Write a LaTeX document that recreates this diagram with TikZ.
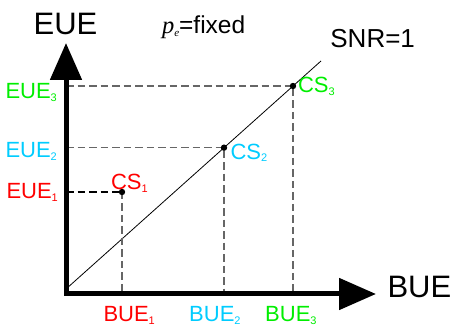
\documentclass[tikz,border=0pt]{standalone}
\usepackage{fontspec}
\setmainfont{Liberation Sans}
\newfontfamily\serifit{Liberation Serif}
\usetikzlibrary{positioning,arrows.meta}
\definecolor{CSred}{HTML}{FF0000}
\definecolor{CScyan}{HTML}{00CCFF}
\definecolor{CSgreen}{HTML}{00EE00}
\newcommand{\lo}[1]{\raisebox{-2.5pt}{\fontsize{11}{11}\selectfont #1}}

\begin{document}
\begin{tikzpicture}[
  x=1pt,y=1pt,
  every node/.style={inner sep=0pt,outer sep=0pt},
  axislabel/.style={font=\fontsize{31}{31}\selectfont},
  cslabel/.style={font=\fontsize{22}{22}\selectfont,anchor=base west},
  guide/.style={dash pattern=on 7.5pt off 4pt,line width=1.3pt,black!60},
  axisline/.style={line width=5pt,{Triangle[length=37pt,width=31pt]}-{Triangle[length=37pt,width=31pt]}}
]
\useasboundingbox (0,0) rectangle (456,326);

% axes corner and tips
\coordinate (O) at (66,32);
\coordinate (ytip) at (66,283);
\coordinate (xtip) at (376,32);

% SNR=1 line
\coordinate (d0) at (66,37);
\coordinate (d1) at (321,265);
\draw[line width=0.8pt] (d0) -- (d1);

% operating points
\coordinate (cs1) at (122,134);
\coordinate (cs2) at (224,178.3);
\coordinate (cs3) at (293,240);

% projections on the axes
\draw[guide,black,line width=1.1pt] (O |- cs1) -- (cs1);
\draw[guide] (cs1) -- (O -| cs1);
\draw[guide] (O |- cs2) -- (cs2) -- (O -| cs2);
\draw[guide] (O |- cs3) -- (cs3) -- (O -| cs3);

\draw[axisline] (ytip) -- (O) -- (xtip);

\fill (cs1) circle (3.2pt);
\fill (cs2) circle (3.2pt);
\fill (cs3) circle (3.2pt);

% axis names and notes
\node[axislabel,anchor=base] (ylab) at (65.5,291) {EUE};
\node[axislabel,anchor=base west] (xlab) at (387.5,28.3) {BUE};
\node[font=\fontsize{26}{26}\selectfont,anchor=base west] (snr) at (330.4,278.7) {SNR=1};
\node[font=\fontsize{24.5}{24.5}\selectfont,anchor=base west] (pe) at (162,292.7)
  {{\serifit\itshape p\raisebox{-3pt}{\fontsize{11}{11}\selectfont e}}=fixed};

% point labels
\node[cslabel,text=CSred] (lcs1) at (111,136) {CS\lo{1}};
\node[cslabel,text=CScyan] (lcs2) at (230.5,166.7) {CS\lo{2}};
\node[cslabel,text=CSgreen] (lcs3) at (298,233) {CS\lo{3}};

\node[cslabel,text=CSred] (leue1) at (6.5,127) {EUE\lo{1}};
\node[cslabel,text=CScyan] (leue2) at (5.5,168) {EUE\lo{2}};
\node[cslabel,text=CSgreen] (leue3) at (5.5,227) {EUE\lo{3}};

\node[cslabel,text=CSred] (lbue1) at (103.5,4.3) {BUE\lo{1}};
\node[cslabel,text=CScyan] (lbue2) at (189.2,4.3) {BUE\lo{2}};
\node[cslabel,text=CSgreen] (lbue3) at (265.2,4.3) {BUE\lo{3}};
\end{tikzpicture}
\end{document}
